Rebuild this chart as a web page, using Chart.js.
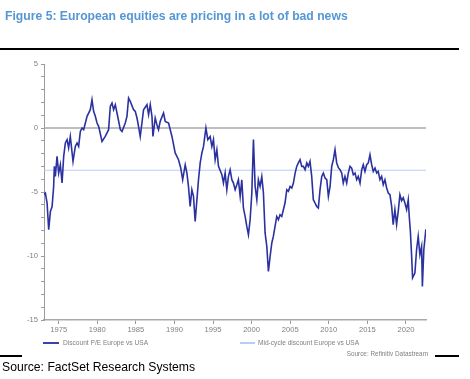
<!DOCTYPE html>
<html>
<head>
<meta charset="utf-8">
<script src="https://cdn.jsdelivr.net/npm/chart.js@4.4.0/dist/chart.umd.min.js"></script>
<style>
  html, body { margin: 0; padding: 0; background: #ffffff; }
  #wrap { position: relative; width: 470px; height: 379px; overflow: hidden; background: #fff; font-family: "Liberation Sans", Arial, sans-serif; }
  #c { position: absolute; left: 0; top: 0; }
  .abs { position: absolute; white-space: nowrap; }
  #title { left: 5px; top: 9px; font-size: 12.2px; line-height: 14px; font-weight: bold; color: #5597d4; }
  .rule { position: absolute; background: #000; height: 1.5px; }
  .leg { font-size: 6.6px; line-height: 8px; color: #808080; top: 339px; }
  .legline { position: absolute; height: 1.5px; top: 342px; }
  #src2 { font-size: 6.4px; line-height: 8px; color: #808080; right: 42px; top: 349.5px; }
  #src { left: 2px; top: 360px; font-size: 12.2px; line-height: 15px; color: #000; }
</style>
</head>
<body>
<div id="wrap">
  <canvas id="c" width="470" height="379"></canvas>
  <div id="title" class="abs">Figure 5: European equities are pricing in a lot of bad news</div>
  <div class="rule" style="left:0;top:48px;width:459px;"></div>
  <div class="legline" style="left:43px;width:16px;background:#3a43a8;"></div>
  <div class="abs leg" style="left:63px;">Discount P/E Europe vs USA</div>
  <div class="legline" style="left:240px;width:15px;background:#b9cdf5;"></div>
  <div class="abs leg" style="left:258px;">Mid-cycle discount Europe vs USA</div>
  <div id="src2" class="abs">Source: Refinitiv Datastream</div>
  <div class="rule" style="left:0;top:355px;width:22px;"></div>
  <div class="rule" style="left:435px;top:355px;width:24px;"></div>
  <div id="src" class="abs">Source: FactSet Research Systems</div>
</div>
<script>
// ---- data ----
const years = [
  1973.06,1973.28,1973.50,1973.71,1973.93,1974.15,1974.35,1974.44,1974.57,1974.79,
  1975.00,1975.22,1975.44,1975.65,1975.87,1976.09,1976.29,1976.51,1976.86,1977.16,
  1977.38,1977.59,1977.81,1978.03,1978.24,1978.46,1978.68,1979.10,1979.32,1979.53,
  1979.75,1979.97,1980.18,1980.62,1981.04,1981.47,1981.69,1981.91,1982.12,1982.34,
  1982.56,1982.99,1983.21,1983.63,1983.85,1984.06,1984.28,1984.71,1984.93,1985.15,
  1985.35,1985.57,1985.79,1986.00,1986.44,1986.65,1986.87,1987.09,1987.22,1987.51,
  1987.73,1987.94,1988.16,1988.59,1988.81,1989.24,1989.68,1990.10,1990.53,1990.81,
  1991.07,1991.40,1991.62,1991.82,1992.04,1992.26,1992.47,1992.69,1993.12,1993.34,
  1993.56,1993.77,1994.08,1994.33,1994.63,1994.85,1995.06,1995.28,1995.50,1995.71,
  1996.15,1996.35,1996.57,1996.79,1997.00,1997.22,1997.44,1997.65,1997.87,1998.09,
  1998.29,1998.52,1998.73,1998.94,1999.16,1999.38,1999.59,1999.81,2000.03,2000.24,
  2000.46,2000.68,2000.88,2001.10,2001.32,2001.53,2001.75,2001.97,2002.18,2002.40,
  2002.62,2002.82,2003.04,2003.26,2003.47,2003.69,2003.91,2004.33,2004.56,2004.77,
  2004.99,2005.21,2005.42,2005.64,2005.85,2006.06,2006.28,2006.50,2006.71,2006.93,
  2007.15,2007.35,2007.57,2007.79,2008.00,2008.22,2008.44,2008.65,2008.87,2009.09,
  2009.30,2009.52,2009.74,2009.95,2010.17,2010.38,2010.59,2010.81,2011.03,2011.25,
  2011.46,2011.68,2011.88,2012.10,2012.32,2012.53,2012.75,2012.97,2013.18,2013.40,
  2013.62,2013.82,2014.05,2014.27,2014.47,2014.69,2014.91,2015.12,2015.34,2015.56,
  2015.77,2015.99,2016.21,2016.41,2016.63,2016.85,2017.06,2017.28,2017.50,2017.71,
  2017.93,2018.15,2018.35,2018.57,2018.79,2019.00,2019.22,2019.44,2019.65,2019.87,
  2020.09,2020.30,2020.43,2020.58,2020.74,2020.86,2021.16,2021.38,2021.59,2021.81,
  2022.03,2022.13,2022.32,2022.45,2022.58
];
const discount = [
  -5.21,-5.08,-5.86,-7.95,-6.52,-6.13,-4.56,-3.00,-3.78,-2.22,
  -3.52,-2.87,-4.30,-2.22,-1.17,-0.91,-1.56,-0.66,-2.61,-1.44,
  -1.17,-1.44,-0.27,0.00,-0.13,0.39,0.91,1.43,2.21,1.30,
  0.91,0.39,0.13,-1.05,-0.66,-0.13,1.69,1.95,1.43,1.82,
  1.17,-0.13,-0.27,0.39,0.91,2.34,2.08,1.43,1.30,0.78,
  0.13,-0.66,0.39,1.43,1.82,1.04,1.82,0.91,-0.66,0.78,
  0.26,-0.13,0.52,1.17,0.52,0.39,-0.66,-1.95,-2.48,-3.10,
  -4.04,-2.87,-3.52,-4.56,-6.13,-4.82,-5.34,-7.30,-4.04,-2.73,
  -1.95,-1.44,0.00,-0.91,-0.66,-1.44,-0.91,-2.48,-1.70,-3.00,
  -3.65,-4.30,-3.52,-4.82,-3.78,-3.26,-4.04,-4.30,-4.82,-4.43,
  -4.04,-5.34,-4.04,-6.25,-6.91,-7.69,-8.34,-7.16,-5.08,-0.91,
  -4.56,-5.60,-4.04,-4.56,-3.80,-5.05,-8.20,-9.25,-11.20,-10.03,
  -8.98,-8.47,-7.69,-6.91,-7.16,-6.77,-6.91,-5.86,-4.82,-4.95,
  -4.56,-4.69,-4.30,-3.52,-3.00,-2.73,-2.48,-3.00,-3.00,-3.26,
  -2.73,-3.00,-2.61,-3.78,-5.60,-5.86,-6.13,-6.25,-4.82,-3.78,
  -3.52,-3.91,-4.04,-5.34,-4.56,-3.00,-2.48,-1.70,-2.73,-3.10,
  -3.26,-3.52,-4.30,-3.78,-4.30,-3.52,-3.00,-3.13,-3.65,-3.52,
  -4.04,-3.78,-4.30,-3.26,-2.87,-3.39,-2.87,-2.73,-2.09,-2.87,
  -3.39,-3.13,-3.52,-3.39,-4.04,-3.78,-4.43,-4.04,-4.69,-5.08,
  -5.21,-6.13,-7.55,-6.38,-7.55,-6.52,-5.21,-5.68,-5.45,-5.86,
  -6.38,-5.60,-6.91,-8.10,-10.03,-11.70,-11.33,-9.51,-8.47,-9.90,
  -9.25,-12.38,-9.51,-8.73,-7.91
];
const midCycleDiscount = -3.3;
const zeroLevel = 0;
const xTickYears = [1975, 1980, 1985, 1990, 1995, 2000, 2005, 2010, 2015, 2020];
const yTickValues = [5, 0, -5, -10, -15];
const xRange = [1973.1, 2022.6];
const yRange = [-15, 5];

// ---- chart ----
const seriesData = years.map((yr, i) => ({ x: yr, y: discount[i] }));
const zeroData = xRange.map(v => ({ x: v, y: zeroLevel }));
const midData = xRange.map(v => ({ x: v, y: midCycleDiscount }));

const tickFont = { family: '"Liberation Sans", Arial, sans-serif', size: 7.6 };

new Chart(document.getElementById('c'), {
  type: 'line',
  data: {
    datasets: [
      { label: 'Discount P/E Europe vs USA', data: seriesData, borderColor: '#2b32a0', borderWidth: 1.6, pointRadius: 0, tension: 0 },
      { label: 'Zero', data: zeroData, borderColor: '#a9a9a9', borderWidth: 1.5, pointRadius: 0 },
      { label: 'Mid-cycle discount Europe vs USA', data: midData, borderColor: '#b9cdf5', borderWidth: 1.2, pointRadius: 0 }
    ]
  },
  options: {
    responsive: false,
    animation: false,
    devicePixelRatio: 1,
    events: [],
    layout: { padding: { left: 0, top: 64, right: 44, bottom: 45 } },
    plugins: { legend: { display: false }, tooltip: { enabled: false }, title: { display: false } },
    scales: {
      x: {
        type: 'linear',
        min: xRange[0], max: xRange[1],
        afterBuildTicks: (axis) => { axis.ticks = xTickYears.map(v => ({ value: v })); },
        afterFit: (axis) => { axis.height = 14; },
        ticks: { autoSkip: false, maxRotation: 0, font: tickFont, color: '#7f7f7f', padding: 1, callback: (v) => String(v) },
        grid: { drawOnChartArea: false, drawTicks: true, tickLength: 4, color: '#9a9a9a' },
        border: { display: true, color: '#a9a9a9', width: 1.5 }
      },
      y: {
        type: 'linear',
        min: yRange[0], max: yRange[1],
        afterBuildTicks: (axis) => {
          const t = [];
          for (let v = yRange[0]; v <= yRange[1]; v++) t.push({ value: v });
          axis.ticks = t;
        },
        afterFit: (axis) => { axis.width = 44; },
        ticks: { autoSkip: false, font: tickFont, color: '#7f7f7f', padding: 3,
                 callback: (v) => yTickValues.includes(v) ? String(v) : '' },
        grid: { drawOnChartArea: false, drawTicks: true, tickLength: 3, color: '#9a9a9a' },
        border: { display: true, color: '#9a9a9a', width: 1 }
      }
    }
  }
});
</script>
</body>
</html>
